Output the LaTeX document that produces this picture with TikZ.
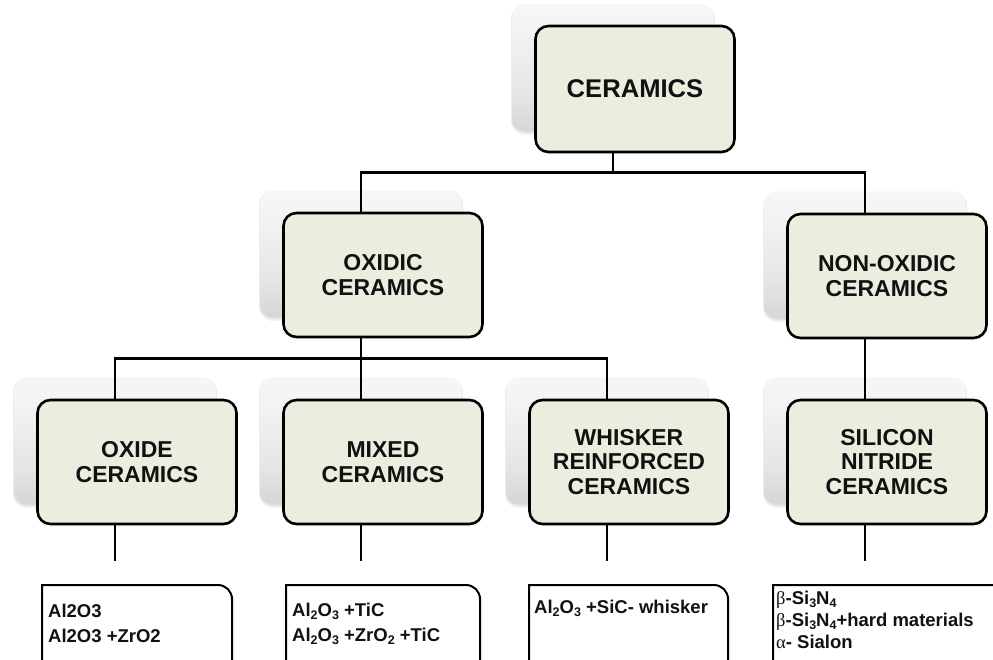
\documentclass[tikz,border=0pt]{standalone}
\usepackage{fontspec}
\setmainfont{Liberation Sans}
\newfontfamily\greekfont{Liberation Serif}
\usetikzlibrary{calc}

\definecolor{cardfill}{RGB}{235,238,222}
\definecolor{ink}{RGB}{17,17,17}

% soft grey card behind every box: light at the top, darker at the bottom
\pgfdeclareverticalshading{backcard}{100bp}{color(0bp)=(black!30); color(8bp)=(black!23); color(40bp)=(black!10); color(68bp)=(black!4); color(100bp)=(black!2)}

\tikzset{
  card/.style={draw=black, line width=2.6pt, fill=cardfill, rounded corners=13pt,
    minimum width=199pt, minimum height=124pt, align=center, text=ink, inner sep=2pt,
    font=\bfseries\fontsize{23}{24.5}\selectfont},
  topcard/.style={minimum height=126pt, font=\bfseries\fontsize{25.6}{27}\selectfont},
  link/.style={draw=black, line width=2.6pt},
  listbox/.style={draw=black, line width=2pt},
  listline/.style={anchor=base west, inner sep=0pt, text=ink,
    font=\bfseries\fontsize{18.5}{20}\selectfont},
}

% #2 name, (#3,#4) centre, #5 text; the grey card sits 22 left and 21 up
\newcommand\cardat[5][]{%
  \fill[black, opacity=0.05, rounded corners=14pt]
    ({#3-124},{#4-84}) rectangle ({#3+80},{#4+46});
  \fill[black, opacity=0.06, rounded corners=13pt]
    ({#3-123.5},{#4-84.5}) rectangle ({#3+79.5},{#4+44});
  \shade[shading=backcard, rounded corners=13pt]
    ({#3-123},{#4-84.5}) rectangle ({#3+79},{#4+42.5});
  \node[card,#1] (#2) at (#3,#4) {#5};
}

% list box open at the bottom, rounded only at the top right
\newcommand\listframe[2]{%
  \draw[listbox] (#1,680) -- (#1,585) -- ({#2-14},585)
    arc[start angle=-90, end angle=0, radius=14] -- (#2,680);
}

% lowered small index figures
\newcommand\sub[1]{\raisebox{-3.6pt}{\fontsize{12.5}{12.5}\selectfont #1}}

\begin{document}
\begin{tikzpicture}[x=1pt,y=-1pt]
\useasboundingbox (0,0) rectangle (993,659);
\clip (0,0) rectangle (993,659);

% boxes
\cardat[topcard]{ceramics}{635}{89}{CERAMICS}
\cardat{oxidic}{383}{275}{OXIDIC\\CERAMICS}
\cardat{nonoxidic}{887}{276}{NON-OXIDIC\\CERAMICS}
\cardat{oxide}{137}{462}{OXIDE\\CERAMICS}
\cardat{mixed}{383}{462}{MIXED\\CERAMICS}
\cardat{whisker}{629}{462}{WHISKER\\REINFORCED\\CERAMICS}
\cardat{silicon}{887}{462}{SILICON\\NITRIDE\\CERAMICS}

% junctions of the tree lines
\coordinate (hubtop) at ($(ceramics.south)+(-22,19)$);
\coordinate (hubmid) at ($(oxidic.south)+(-22,20)$);

% connectors
\draw[link] ($(ceramics.south)+(-22,0)$) -- (hubtop);
\draw[link] ($(oxidic.north)+(-22,0)$) |- (hubtop) -| ($(nonoxidic.north)+(-22,0)$);
\draw[link] ($(oxidic.south)+(-22,0)$) -- (hubmid);
\draw[link] ($(oxide.north)+(-22,0)$) |- (hubmid) -| ($(whisker.north)+(-22,0)$);
\draw[link] ($(mixed.north)+(-22,0)$) -- (hubmid);
\draw[link] ($(nonoxidic.south)+(-22,0)$) -- ($(silicon.north)+(-22,0)$);

% short tails below the lower boxes
\foreach \b in {oxide,mixed,whisker,silicon}{
  \coordinate (\b-tail) at ($(\b.south)+(-22,36)$);
  \draw[link] ($(\b.south)+(-22,0)$) -- (\b-tail);
}

% lists of materials
\listframe{42}{232}
\listframe{286}{480}
\listframe{529}{728}
\listframe{773}{1010}

\node[listline] (oxide-a) at (48,617) {Al2O3};
\node[listline] (oxide-b) at (48,642) {Al2O3 +ZrO2};

\node[listline] (mixed-a) at (292,616) {Al\sub{2}O\sub{3} +TiC};
\node[listline] (mixed-b) at (292,641) {Al\sub{2}O\sub{3} +ZrO\sub{2} +TiC};

\node[listline] (whisker-a) at (534,613) {Al\sub{2}O\sub{3} +SiC- whisker};

\node[listline] (silicon-a) at (776,604) {{\greekfont\mdseries β}-Si\sub{3}N\sub{4}};
\node[listline] (silicon-b) at (776,626) {{\greekfont\mdseries β}-Si\sub{3}N\sub{4}+hard materials};
\node[listline] (silicon-c) at (776,648) {{\greekfont\mdseries α}- Sialon};
\end{tikzpicture}
\end{document}
